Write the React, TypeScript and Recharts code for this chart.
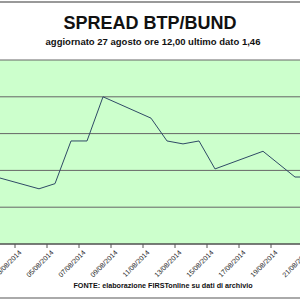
import React from 'react';
import { LineChart, Line, XAxis, YAxis, CartesianGrid } from 'recharts';

// giorno di agosto 2014 (solo giorni di borsa) e spread BTP/BUND
const days = [1, 4, 5, 6, 7, 8, 11, 12, 13, 14, 15, 18, 20, 21];
const spread = [1.593, 1.575, 1.582, 1.64, 1.64, 1.7, 1.671, 1.64, 1.636, 1.64, 1.602, 1.626, 1.591, 1.591];
const tickDays = [1, 3, 5, 7, 9, 11, 13, 15, 17, 19, 21, 23, 25, 27];
const yTicks = [1.5, 1.55, 1.6, 1.65, 1.7, 1.75];

const fmtDay = (d: number) => String(d).padStart(2, '0') + '/08/2014';

const DateTick = (props: any) => {
  const { x, y, payload } = props;
  return (
    <g>
      <line x1={x - 8} x2={x - 8} y1={y} y2={y + 4} stroke="#555" />
      <text
        x={0}
        y={0}
        transform={`translate(${x - 1},${y + 9}) rotate(-45)`}
        textAnchor="end"
        fontSize={7}
        fill="#222"
        fontFamily="'Liberation Sans', Arial, sans-serif"
      >
        {fmtDay(payload.value)}
      </text>
    </g>
  );
};

export default function App() {
  const data = days.map((d, i) => ({ day: d, v: spread[i] }));
  const font = "'Liberation Sans', Arial, sans-serif";

  return (
    <div style={{ position: 'fixed', top: 0, left: 0, width: 300, height: 300, overflow: 'hidden', background: '#fff' }}>
      <div
        style={{
          position: 'absolute',
          top: 1,
          left: -20,
          width: 336,
          height: 294,
          borderTop: '2px solid #999',
          borderBottom: '2px solid #aaa',
        }}
      />
      <div style={{ position: 'absolute', top: 13, left: 0, width: 300, textAlign: 'center', fontFamily: font, fontWeight: 'bold', fontSize: 18, color: '#111' }}>
        SPREAD BTP/BUND
      </div>
      <div style={{ position: 'absolute', top: 36, left: 0, width: 306, textAlign: 'center', whiteSpace: 'nowrap', fontFamily: font, fontWeight: 'bold', fontSize: 9.5, color: '#111' }}>
        aggiornato 27 agosto ore 12,00 ultimo dato 1,46
      </div>
      <div style={{ position: 'absolute', top: 55, left: -57, width: 560, height: 300 }}>
        <LineChart width={560} height={245} data={data} margin={{ top: 5, right: 0, bottom: 0, left: 0 }}>
          <CartesianGrid vertical={false} fill="#ccffcc" stroke="#666" strokeOpacity={1} />
          <XAxis
            dataKey="day"
            type="number"
            domain={[-2, 33]}
            ticks={tickDays}
            allowDataOverflow
            height={56}
            tickLine={false}
            tickSize={0}
            tickMargin={0}
            axisLine={{ stroke: '#444' }}
            tick={<DateTick />}
            interval={0}
          />
          <YAxis hide domain={[1.5, 1.75]} ticks={yTicks} allowDataOverflow />
          <Line type="linear" dataKey="v" stroke="#2f4a66" strokeWidth={1} dot={false} isAnimationActive={false} />
        </LineChart>
      </div>
      <div style={{ position: 'absolute', top: 281, left: 0, width: 326, textAlign: 'center', whiteSpace: 'nowrap', fontFamily: font, fontWeight: 'bold', fontSize: 7.2, color: '#111' }}>
        FONTE: elaborazione FIRSTonline su dati di archivio
      </div>
    </div>
  );
}
